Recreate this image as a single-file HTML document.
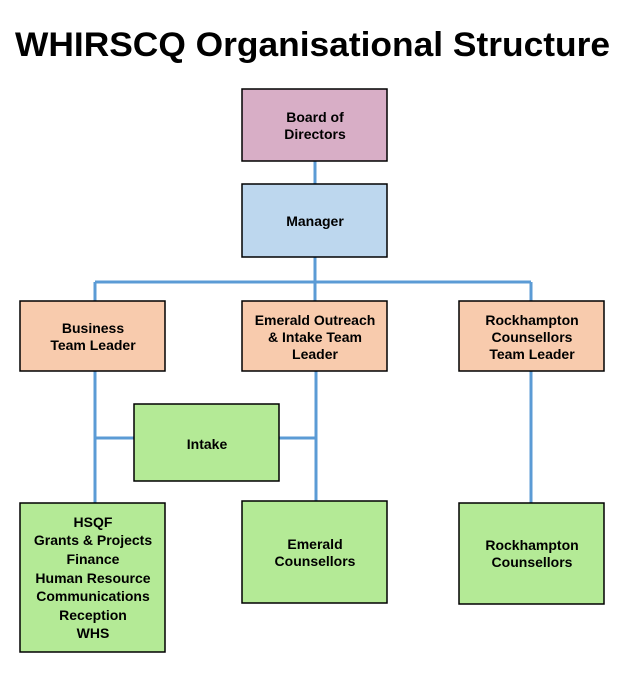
<!DOCTYPE html>
<html><head><meta charset="utf-8"><style>
body{margin:0;background:#fff;width:629px;height:668px;overflow:hidden}
</style></head><body>
<svg width="629" height="668" viewBox="0 0 629 668" xmlns="http://www.w3.org/2000/svg" font-family="Liberation Sans, sans-serif" font-weight="bold">
<text x="15" y="56" font-size="34" textLength="595" lengthAdjust="spacingAndGlyphs">WHIRSCQ Organisational Structure</text>
<g stroke="#5b9bd5" stroke-width="3" fill="none">
<line x1="315" y1="161" x2="315" y2="184"/>
<line x1="315" y1="257" x2="315" y2="282"/>
<line x1="95" y1="282" x2="531" y2="282"/>
<line x1="95" y1="282" x2="95" y2="301"/>
<line x1="315" y1="282" x2="315" y2="301"/>
<line x1="531" y1="282" x2="531" y2="301"/>
<line x1="95" y1="371" x2="95" y2="503"/>
<line x1="316" y1="371" x2="316" y2="501"/>
<line x1="531" y1="371" x2="531" y2="503"/>
<line x1="95" y1="438" x2="134" y2="438"/>
<line x1="279" y1="438" x2="316" y2="438"/>
</g>
<g stroke="#000" stroke-width="1.5">
<rect x="242" y="89" width="145" height="72" fill="#d8aec6"/>
<rect x="242" y="184" width="145" height="73" fill="#bdd7ee"/>
<rect x="20" y="301" width="145" height="70" fill="#f8cbad"/>
<rect x="242" y="301" width="145" height="70" fill="#f8cbad"/>
<rect x="459" y="301" width="145" height="70" fill="#f8cbad"/>
<rect x="134" y="404" width="145" height="77" fill="#b4ea96"/>
<rect x="20" y="503" width="145" height="149" fill="#b4ea96"/>
<rect x="242" y="501" width="145" height="102" fill="#b4ea96"/>
<rect x="459" y="503" width="145" height="101" fill="#b4ea96"/>
</g>
<g font-size="14" text-anchor="middle" fill="#000">
<text x="315" y="122">Board of</text><text x="315" y="139">Directors</text>
<text x="315" y="226">Manager</text>
<text x="93" y="333">Business</text><text x="93" y="350">Team Leader</text>
<text x="315" y="325">Emerald Outreach</text><text x="315" y="342">&amp; Intake Team</text><text x="315" y="359">Leader</text>
<text x="532" y="325">Rockhampton</text><text x="532" y="342">Counsellors</text><text x="532" y="359">Team Leader</text>
<text x="207" y="449">Intake</text>
<text x="93" y="527">HSQF</text><text x="93" y="545">Grants &amp; Projects</text><text x="93" y="564">Finance</text><text x="93" y="583">Human Resource</text><text x="93" y="601">Communications</text><text x="93" y="620">Reception</text><text x="93" y="638">WHS</text>
<text x="315" y="549">Emerald</text><text x="315" y="566">Counsellors</text>
<text x="532" y="550">Rockhampton</text><text x="532" y="567">Counsellors</text>
</g>
</svg>
</body></html>
